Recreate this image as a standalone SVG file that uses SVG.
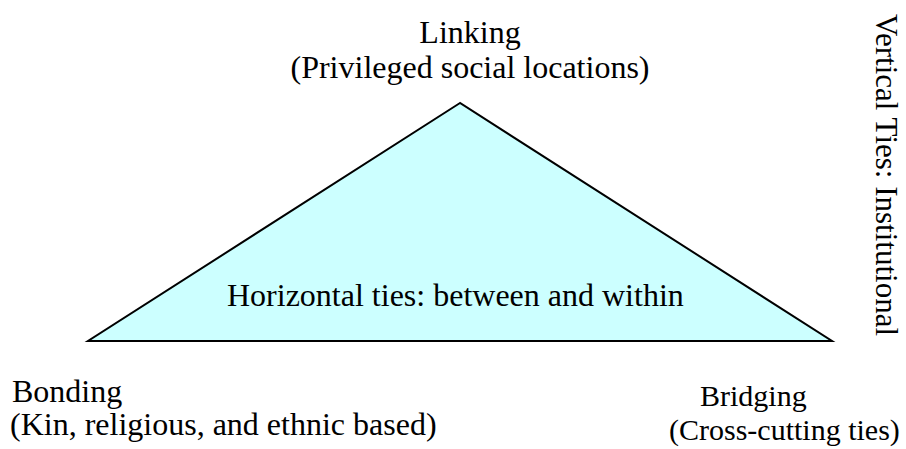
<svg xmlns="http://www.w3.org/2000/svg" width="906" height="449" viewBox="0 0 906 449">
<style>
.t{font-family:"Liberation Serif","Times New Roman",serif;font-size:32px;fill:#000}
.m{text-anchor:middle}
.s{font-size:30px}
</style>
<rect width="906" height="449" fill="#fff"/>
<g id="triangle">
<polygon points="460,103 88,341 832,341" fill="#CCFFFF" stroke="#000" stroke-width="2" stroke-linejoin="miter"/>
<text class="t" x="227" y="306">Horizontal ties: between and within</text>
</g>
<g id="linking">
<text class="t m" x="470" y="43">Linking</text>
<text class="t m" x="470" y="78">(Privileged social locations)</text>
</g>
<g id="bonding">
<text class="t" x="12" y="402">Bonding</text>
<text class="t" x="10" y="435">(Kin, religious, and ethnic based)</text>
</g>
<g id="bridging">
<text class="t s" x="700" y="406">Bridging</text>
<text class="t s" x="669" y="440">(Cross-cutting ties)</text>
</g>
<g id="vertical">
<text class="t" style="font-size:31px" transform="translate(876,14) rotate(90)">Vertical Ties: Institutional</text>
</g>
</svg>
